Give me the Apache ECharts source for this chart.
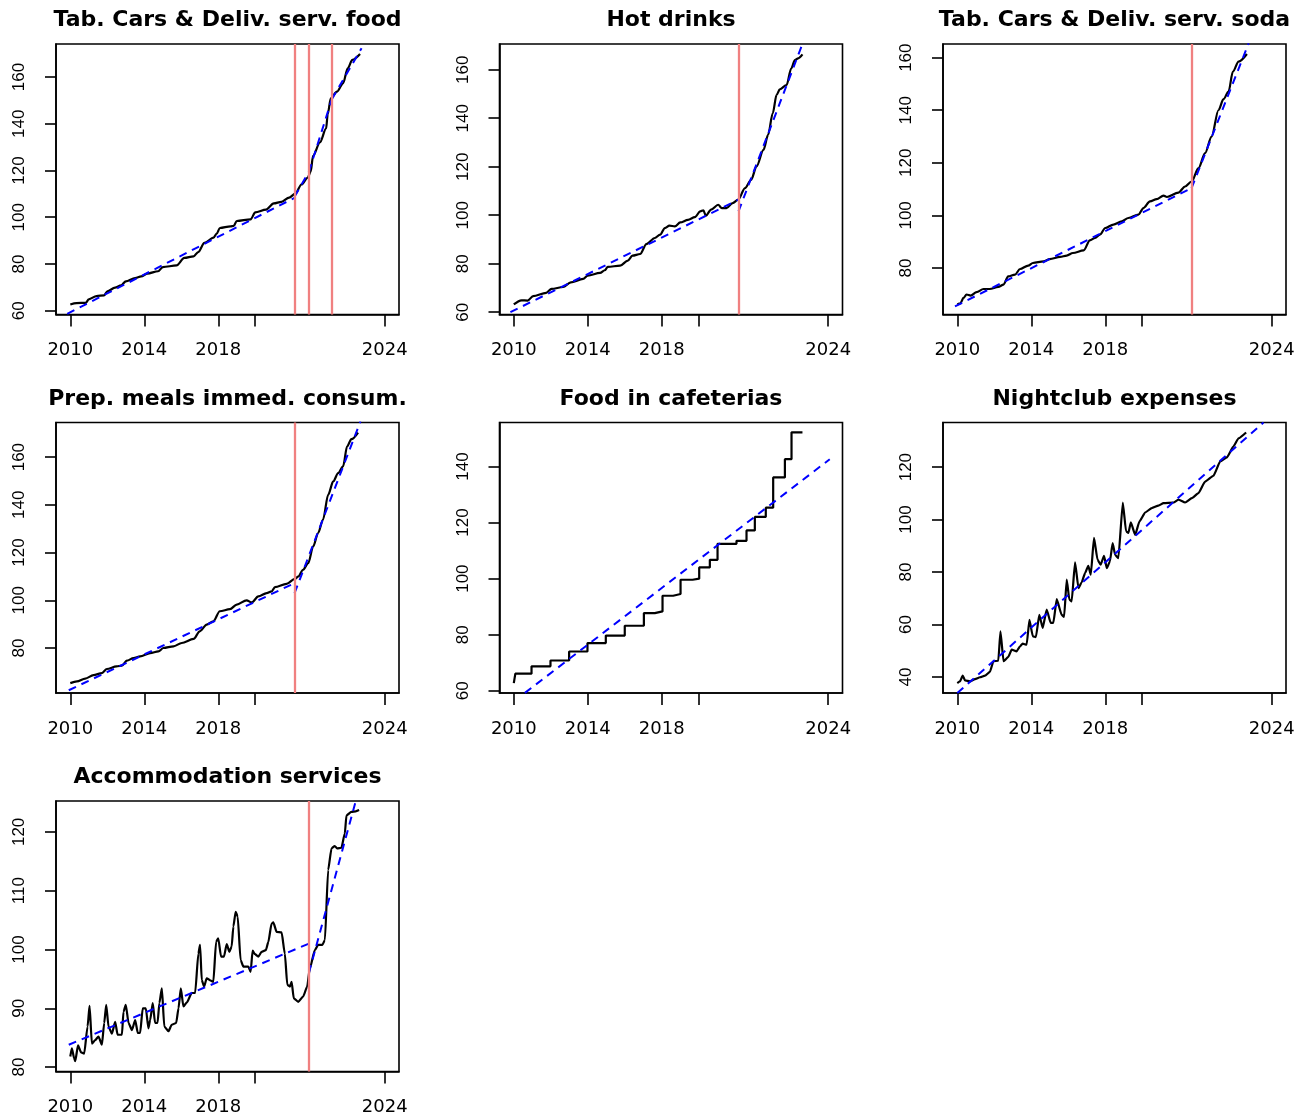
<!DOCTYPE html>
<html><head><meta charset="utf-8">
<script src="https://cdn.jsdelivr.net/npm/echarts@6/dist/echarts.min.js"></script>
<style>html,body{margin:0;padding:0;background:#fff}#chart{width:1314px;height:1117px}</style>
</head><body><div id="chart"></div>
<script>
// ---- x axis: months since Jan 2010 ----
const xTickMonths = [0, 48, 96, 120, 204];
const xLabelMonths = [0, 48, 96, 204];
const xTickLabels = { 0: '2010', 48: '2014', 96: '2018', 204: '2024' };

const titles = ['Tab. Cars & Deliv. serv. food', 'Hot drinks', 'Tab. Cars & Deliv. serv. soda',
  'Prep. meals immed. consum.', 'Food in cafeterias', 'Nightclub expenses', 'Accommodation services'];

// ---- series values [month, index] ----
const foodDeliv = [[0,62.7],[4,63.3],[10,63.4],[12,64.9],[17,66.3],[22,66.6],[24,68.3],[29,69.9],[33,70.9],[36,72.6],[42,74.0],[46,74.7],[50,75.9],[57,76.9],[60,78.7],[69,79.4],[74,82.6],[80,83.3],[83,85.1],[87,89.0],[93,91.3],[95,93.0],[97,95.4],[104,96.1],[106,96.3],[108,98.4],[117,99.1],[120,102.1],[127,103.3],[132,105.9],[137,106.6],[142,108.4],[146,110.1],[150,114.0],[154,116.9],[156,119.5],[157.5,126.3],[162,132.0],[166,138.0],[167,144.0],[169,150.9],[173,153.7],[177,157.3],[180,163.7],[183,167.3],[188,169.8]];
const foodDelivTrend = [[[-2,58.7],[145.5,108.3]], [[145.5,108.8],[154.8,119.4]], [[154.8,119.4],[169.7,150.5]], [[169.7,150.5],[189,172.3]]];
const foodDelivBreaks = [145.5, 154.8, 169.7];

const hotDrinks = [[0,63.2],[5,64.9],[9,64.8],[12.5,66.6],[21,68.0],[24.5,69.6],[32,70.4],[37,72.3],[45,73.7],[48,75.1],[56,76.2],[59,77.3],[61,78.7],[69,79.2],[74,81.3],[77,83.3],[82,84.0],[86,88.1],[91.5,90.6],[95,92.0],[98,94.7],[101,95.7],[104.5,95.4],[108,97.0],[113,98.1],[117.5,99.2],[121,101.6],[123,102.0],[124.6,99.8],[128,102.3],[132.6,104.3],[135,102.9],[138,102.9],[142,105.0],[145.6,106.4],[150,111.2],[154,114.6],[157.5,120.1],[162,126.9],[165,133.1],[168,142.0],[170.5,149.6],[172.6,151.9],[177,153.7],[180,160.5],[182.4,164.0],[184.5,164.7],[187.3,166.3]];
const hotDrinksTrend = [[[-2.2,60.0],[145.8,106.4]], [[145.8,101.6],[188,171.8]]];
const hotDrinksBreaks = [145.8];

const sodaDeliv = [[0,66.1],[2,66.5],[4,68.6],[6,69.9],[8.7,69.5],[12.5,70.8],[17,72.0],[21,72.0],[26.6,72.8],[30,73.7],[33,76.8],[37.5,77.5],[40.7,79.6],[46,80.9],[49,81.9],[56,82.5],[60,83.4],[66.7,84.2],[71,84.7],[75,85.7],[82,86.7],[86,90.5],[89.4,91.4],[92.6,92.7],[96,95.2],[101.3,96.5],[106.7,97.7],[111,99.0],[117.5,100.3],[120.8,102.8],[125,105.3],[129.4,106.2],[133.8,107.5],[136,107.0],[143.5,108.7],[147.8,111.0],[152,112.9],[156.5,118.0],[160.8,123.7],[165,130.0],[169.5,140.1],[172.7,144.2],[176,147.1],[178.8,154.7],[182.5,158.5],[187.9,161.4]];
const sodaDelivTrend = [[[-1.5,65.4],[152,110.4]], [[152,110.4],[189,165.4]]];
const sodaDelivBreaks = [152];

const prepMeals = [[0,65.3],[4.3,66.0],[9.7,67.2],[15,68.6],[20.5,69.5],[23.7,71.2],[30,72.3],[33.5,72.6],[36.7,74.7],[41,75.8],[45.3,76.5],[51.8,77.9],[57.2,78.6],[60.4,80.0],[67,80.7],[72.3,82.1],[80,83.8],[84,87.0],[88.5,89.8],[92.8,91.2],[97,95.4],[103.6,96.3],[108,98.2],[114.4,100.0],[117.7,99.1],[122,101.6],[127.4,103.0],[130.6,103.7],[132.8,105.5],[140.3,106.9],[145.7,109.0],[148,110.0],[151,112.8],[154.4,115.6],[157.6,122.6],[160.8,128.2],[164,133.8],[167.3,144.2],[170.6,149.8],[173.8,153.3],[177,156.1],[179.6,164.5],[182.4,167.5],[186.7,170.3]];
const prepMealsTrend = [[[-1,62.3],[145.5,107.2]], [[145.5,103.0],[188.3,175.0]]];
const prepMealsBreaks = [145.5];

// step changes: [month, level after change]
const cafeterias = [[0,62.7],[1,66.1],[11.5,68.7],[23.8,70.8],[35.9,74.0],[47.8,77.0],[59.7,79.7],[72,83.2],[84.4,87.7],[91.5,88.3],[96.5,93.9],[103.4,94.5],[108.2,99.6],[116,100.0],[120.3,104.0],[127.2,106.7],[132.2,112.4],[144.5,113.5],[151,117.2],[156.4,122.0],[163.5,125.3],[168.3,136.1],[175.9,142.6],[180.2,152.2],[187.3,152.2]];
const cafeteriasTrend = [[[0,56.2],[205,142.6]]];
const cafeteriasBreaks = [];

const nightclub = [[0,37.7],[1.7,38.3],[3.5,40.5],[5,38.7],[8.2,38.3],[11.5,39.2],[14.7,39.9],[18,40.5],[21.2,42],[23.4,46],[26.6,46.2],[28,57.4],[30,46],[33,47.6],[35.3,50.4],[38.5,49.8],[40.7,51.7],[42.4,52.7],[45,52.3],[46.8,61.8],[49,55.5],[51,55.2],[53.2,63.7],[55.4,58.7],[58,65.7],[60.6,60.6],[62.3,60.6],[64.5,69.7],[67.7,63.7],[69.3,62.9],[71,77.1],[72.7,69.5],[74.2,68.8],[76.4,83.7],[78.6,73.9],[80.7,76.1],[82.9,79.6],[85,82.4],[86.6,79],[88.7,93],[91,84.7],[93,82.8],[95.2,86.2],[97,81.5],[99,84],[100.8,91],[102.4,86.6],[104.5,85.3],[107.4,106.5],[109.5,95.5],[111,94.9],[112.6,98.9],[115.4,94.2],[118.2,99.3],[121.9,102.7],[126.2,104.4],[130.5,105.3],[133.8,106.3],[140.3,106.5],[143.5,107.6],[147.8,106.5],[152.2,108.2],[156.5,110.1],[160.8,114.5],[166.2,116.7],[170.6,122.2],[174.9,123.7],[179.2,127.9],[182.5,131],[187.4,133.2]];
const nightclubTrend = [[[0,33.9],[198.7,137]]];
const nightclubBreaks = [];

const accommodation = [[0,81.8],[1,83.2],[2.5,81.5],[3.2,81.0],[5,83.7],[7,82.5],[9,82.3],[11.2,86.9],[12.5,90.4],[14,84.0],[16.2,84.6],[18.3,85.2],[20.5,83.8],[22,87.5],[23.3,90.6],[24.8,86.9],[27,85.7],[29.1,87.7],[30.7,85.5],[33.5,85.5],[34.5,89.4],[36,90.6],[37.8,87.5],[40,86.3],[42.1,88.0],[43.8,85.8],[45.3,85.8],[47,90.0],[49,90.0],[50.7,86.6],[51.8,88.0],[53.5,90.9],[55,87.5],[56.6,87.5],[57.8,90.9],[59.4,93.4],[61,86.9],[63.7,86.1],[65.8,87.2],[68.7,87.5],[70.2,90.0],[71.7,93.4],[73.4,90.3],[75.6,91.0],[78.8,92.6],[81,92.6],[83.1,99.3],[84.2,100.8],[85.3,94.8],[86.8,93.7],[88.5,95.1],[91.1,94.7],[92.8,94.5],[94.6,101.3],[96,101.9],[97.8,98.8],[99.7,98.8],[101.5,100.9],[103.2,99.6],[104.7,100.5],[105.8,103.9],[107.3,106.4],[108.6,105.6],[110.5,98.2],[112.3,97.1],[115.5,97.1],[117,96.2],[118.3,99.8],[119.8,99.2],[122,98.8],[124.1,99.6],[126.9,99.9],[128.5,101.3],[130.6,104.4],[131.7,104.6],[133.9,103.0],[137.1,102.9],[139.2,99.3],[140.8,94.0],[142.5,93.7],[143.6,94.5],[145,91.7],[147.9,91.1],[151.1,92.0],[153.7,93.7],[155.4,96.8],[158.7,99.9],[160.8,100.8],[163.6,100.8],[165.2,101.6],[167.3,113.5],[169.5,117.2],[171.6,117.6],[173.1,117.2],[175.9,117.3],[178.1,119.7],[179.2,122.8],[182.4,123.4],[185.2,123.5],[187.4,123.7]];
const accommodationTrend = [[[-1,83.8],[154.8,101.0]], [[154.8,96.0],[186,126.0]]];
const accommodationBreaks = [154.8];

// y ticks per panel
const yTicks1 = [60,80,100,120,140,160];
const yTicks2 = [60,80,100,120,140,160];
const yTicks3 = [80,100,120,140,160];
const yTicks4 = [80,100,120,140,160];
const yTicks5 = [60,80,100,120,140];
const yTicks6 = [40,60,80,100,120];
const yTicks7 = [80,90,100,110,120];

const panels = [
  { data: foodDeliv, trend: foodDelivTrend, breaks: foodDelivBreaks, yRange: [58.4, 174.1], yTicks: yTicks1, smooth: 0.3 },
  { data: hotDrinks, trend: hotDrinksTrend, breaks: hotDrinksBreaks, yRange: [59.05, 170.6], yTicks: yTicks2, smooth: 0.3 },
  { data: sodaDeliv, trend: sodaDelivTrend, breaks: sodaDelivBreaks, yRange: [62.3, 165.2], yTicks: yTicks3, smooth: 0.3 },
  { data: prepMeals, trend: prepMealsTrend, breaks: prepMealsBreaks, yRange: [61.15, 174.5], yTicks: yTicks4, smooth: 0.3 },
  { data: cafeterias, trend: cafeteriasTrend, breaks: cafeteriasBreaks, yRange: [59.2, 155.7], yTicks: yTicks5, step: true },
  { data: nightclub, trend: nightclubTrend, breaks: nightclubBreaks, yRange: [33.9, 137.0], yTicks: yTicks6, smooth: 0.15 },
  { data: accommodation, trend: accommodationTrend, breaks: accommodationBreaks, yRange: [79.25, 125.25], yTicks: yTicks7, smooth: 0.2 }
];

// layout
const colLeft = [56, 499.5, 943];
const rowTop = [44, 422.5, 801];
const gridW = 343, gridH = 270.5;

const grids = [], xAxes = [], yAxes = [], series = [], graphics = [];
panels.forEach((p, i) => {
  const col = i % 3, row = Math.floor(i / 3);
  grids.push({ left: colLeft[col], top: rowTop[row], width: gridW, height: gridH,
    show: true, borderColor: '#000', borderWidth: 1.6, backgroundColor: 'transparent',
    containLabel: false, outerBoundsMode: 'none' });
  xAxes.push({ type: 'value', gridIndex: i, min: -9.28, max: 213.28,
    axisLine: { show: true, onZero: false, lineStyle: { color: '#000', width: 1.6 } },
    axisTick: { show: true, customValues: xTickMonths, length: 12, lineStyle: { color: '#000', width: 1.6 } },
    axisLabel: { show: true, customValues: xLabelMonths, formatter: v => xTickLabels[Math.round(v)] || '',
      fontFamily: 'DejaVu Sans', fontSize: 18, color: '#000', margin: 27 },
    splitLine: { show: false } });
  yAxes.push({ type: 'value', gridIndex: i, min: p.yRange[0], max: p.yRange[1],
    axisLine: { show: true, onZero: false, lineStyle: { color: '#000', width: 1.6 } },
    axisTick: { show: true, customValues: p.yTicks, length: 11, lineStyle: { color: '#000', width: 1.6 } },
    axisLabel: { show: true, customValues: p.yTicks, rotate: 90, fontFamily: 'Liberation Sans',
      fontSize: 17, color: '#000', margin: 28 },
    splitLine: { show: false } });
  series.push({ type: 'line', xAxisIndex: i, yAxisIndex: i, data: p.data, step: p.step ? 'end' : false,
    smooth: p.smooth || false, smoothMonotone: 'x',
    showSymbol: false, symbol: 'none', clip: true, z: 2,
    lineStyle: { color: '#000', width: 2.2 } });
  p.trend.forEach(seg => {
    series.push({ type: 'line', xAxisIndex: i, yAxisIndex: i, data: seg, showSymbol: false, symbol: 'none',
      clip: true, z: 3, lineStyle: { color: '#0000FF', width: 2, type: [8, 6] } });
  });
  if (p.breaks.length) {
    series.push({ type: 'line', xAxisIndex: i, yAxisIndex: i, data: [], z: 4,
      markLine: { silent: true, symbol: ['none', 'none'], animation: false, label: { show: false },
        lineStyle: { color: '#F08080', width: 2.3, type: 'solid', opacity: 1 },
        data: p.breaks.map(b => ({ xAxis: b })) } });
  }
  graphics.push({ type: 'text', x: colLeft[col] + gridW / 2, y: rowTop[row] - 34.5,
    style: { text: titles[i], fill: '#000', fontFamily: 'DejaVu Sans', fontWeight: 'bold', fontSize: 22,
      align: 'center', verticalAlign: 'top' } });
});

const chart = echarts.init(document.getElementById('chart'), null, { renderer: 'canvas' });
chart.setOption({
  animation: false,
  backgroundColor: '#fff',
  grid: grids, xAxis: xAxes, yAxis: yAxes, series: series, graphic: graphics
});
</script></body></html>
